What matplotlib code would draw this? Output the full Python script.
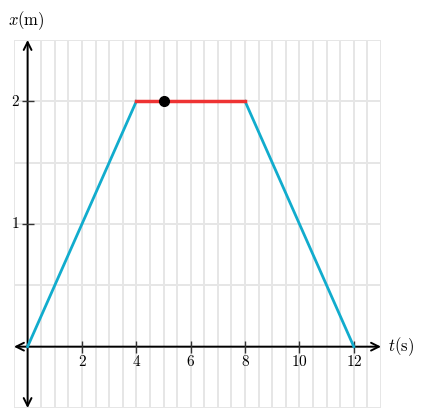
import numpy as np
import matplotlib.pyplot as plt

plt.rcParams['mathtext.fontset'] = 'cm'
plt.rcParams['font.family'] = 'DejaVu Serif'

# position-time data
t_rise = [0, 4]
x_rise = [0, 2]
t_rest = [4, 8]
x_rest = [2, 2]
t_fall = [8, 12]
x_fall = [2, 0]
dot_t = [5]
dot_x = [2]

x_ticks = [2, 4, 6, 8, 10, 12]
y_ticks = [1, 2]

fig = plt.figure(figsize=(4.24, 4.16), dpi=100)
ax = fig.add_axes([14 / 424, 8 / 416, 367 / 424, 368 / 416])
ax.set_xlim(-0.5, 13)
ax.set_ylim(-0.5, 2.5)

# grid every half unit
for gx in np.arange(-0.5, 13.01, 0.5):
    ax.axvline(gx, color='#e6e6e6', lw=1.4, zorder=0)
for gy in np.arange(-0.5, 2.51, 0.5):
    ax.axhline(gy, color='#e6e6e6', lw=1.4, zorder=0)

for s in ax.spines.values():
    s.set_visible(False)
ax.set_xticks([])
ax.set_yticks([])

# axes with arrowheads
arrow = dict(arrowstyle='<->', color='black', lw=1.4, mutation_scale=14,
             shrinkA=0, shrinkB=0)
ax.annotate('', xy=(13, 0), xytext=(-0.5, 0), arrowprops=arrow, zorder=2)
ax.annotate('', xy=(0, 2.5), xytext=(0, -0.5), arrowprops=arrow, zorder=2)

# tick marks and labels
ax.plot(x_ticks, [0] * len(x_ticks), ls='none', marker='|', ms=8, mew=1,
        color='#333333', zorder=2)
ax.plot([0] * len(y_ticks), y_ticks, ls='none', marker='_', ms=8, mew=1,
        color='#333333', zorder=2)
for v in x_ticks:
    ax.text(v, -0.06, f'${v}$', ha='center', va='top', fontsize=11)
for v in y_ticks:
    ax.text(-0.3, v, f'${v}$', ha='right', va='center', fontsize=11)

ax.text(13.25, 0, r'$t(\mathrm{s})$', ha='left', va='center', fontsize=12,
        clip_on=False)
ax.text(-0.05, 2.66, r'$x(\mathrm{m})$', ha='center', va='center', fontsize=12,
        clip_on=False)

# motion graph
ax.plot(t_rise, x_rise, color='#11accd', lw=2, zorder=3)
ax.plot(t_fall, x_fall, color='#11accd', lw=2, zorder=3)
ax.plot(t_rest, x_rest, color='#ee3333', lw=2.5, zorder=3)
ax.plot(dot_t, dot_x, 'o', color='black', ms=7, zorder=4)

fig.savefig('out.png', dpi=100)
